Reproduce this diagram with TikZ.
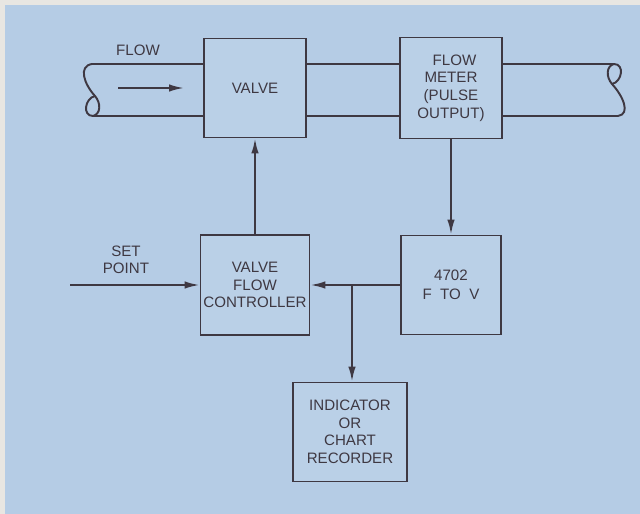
\documentclass[tikz,border=0pt]{standalone}
\usepackage{fontspec}
\setmainfont{Liberation Sans}
\usepackage{xcolor}
\usepackage{tikz}
\usetikzlibrary{calc, arrows.meta, positioning}

\definecolor{paperblue}{RGB}{181,204,229}
\definecolor{paperedge}{RGB}{232,230,226}
\definecolor{inkgray}{RGB}{62,56,66}

\tikzset{
    block/.style={draw=inkgray, line width=1.1pt, fill=paperblue!93!white, align=center,
        inner sep=0pt, text=inkgray, font=\fontsize{8.6}{10}\selectfont},
    lbl/.style={align=center, text=inkgray, font=\fontsize{8.6}{10}\selectfont},
    pipe/.style={draw=inkgray, line width=1.1pt},
}

\begin{document}
\begin{tikzpicture}[>={Latex[length=3mm,width=1.5mm]}, x=0.02cm, y=-0.02cm]
    % 1. Nen giay
    \fill[paperedge] (0,0) rectangle (640,514);
    \fill[paperblue] (5,5) rectangle (640,514);
    \useasboundingbox (0,0) rectangle (640,514);

    % 2. Cac khoi
    \node[block, minimum width=2.04cm, minimum height=1.98cm] (valve) at (255,88) {VALVE};
    \node[block, minimum width=2.04cm, minimum height=2.02cm] (fmeter) at (451,88)
        {\hspace{4pt}FLOW\\METER\\{(PULSE}\\OUTPUT)};
    \node[block, minimum width=2.18cm, minimum height=2cm] (ctrl) at (255,285)
        {VALVE\\FLOW\\CONTROLLER};
    \node[block, minimum width=2cm, minimum height=1.98cm] (conv) at (451,285)
        {4702\\[1pt]F~~TO~~V};
    \node[block, minimum width=2.28cm, minimum height=1.98cm] (rec) at (350,432)
        {INDICATOR\\OR\\CHART\\RECORDER};

    % 3. Duong ong
    \coordinate (pipeTL) at (92,64);
    \coordinate (pipeBL) at (93,116);
    \coordinate (pipeTR) at (614,64);
    \coordinate (pipeBR) at (618,116);
    \draw[pipe] (pipeTL) -- (pipeTL -| valve.west);
    \draw[pipe] (pipeBL) -- (pipeBL -| valve.west);
    \draw[pipe] (pipeTL -| valve.east) -- (pipeTL -| fmeter.west);
    \draw[pipe] (pipeBL -| valve.east) -- (pipeBL -| fmeter.west);
    \draw[pipe] (pipeTR -| fmeter.east) -- (pipeTR);
    \draw[pipe] (pipeBR -| fmeter.east) -- (pipeBR);
    % dau ong ben trai
    \draw[pipe] (pipeTL) .. controls (78,66) and (84,84) .. (95,96)
        .. controls (101,103) and (101,114) .. (pipeBL);
    \draw[pipe] (95,96) .. controls (85,98) and (82,116) .. (pipeBL);
    % dau ong ben phai
    \draw[pipe] (pipeBR) .. controls (631,114) and (623,96) .. (612,84)
        .. controls (606,77) and (606,66) .. (pipeTR);
    \draw[pipe] (612,84) .. controls (622,82) and (625,64) .. (pipeTR);

    % 4. Chieu dong chay
    \node[lbl] (flowlbl) at (138,50) {FLOW};
    \coordinate (fa) at (118,88);
    \coordinate (fb) at (184,88);
    \draw[->, pipe] (fa) -- (fb);

    % 5. Tin hieu
    \draw[->, pipe] (fmeter.south) -- (conv.north);
    \draw[->, pipe] (ctrl.north) -- (ctrl.north |- valve.south);
    \draw[->, pipe] (conv.west) -- (ctrl.east);
    \coordinate (tap) at (352,285);
    \draw[->, pipe] (tap) -- (tap |- rec.north);
    \coordinate (sp) at (70,285);
    \draw[->, pipe] (sp) -- (ctrl.west);
    \node[lbl] (splbl) at (126,260) {SET\\POINT};

\end{tikzpicture}
\end{document}
